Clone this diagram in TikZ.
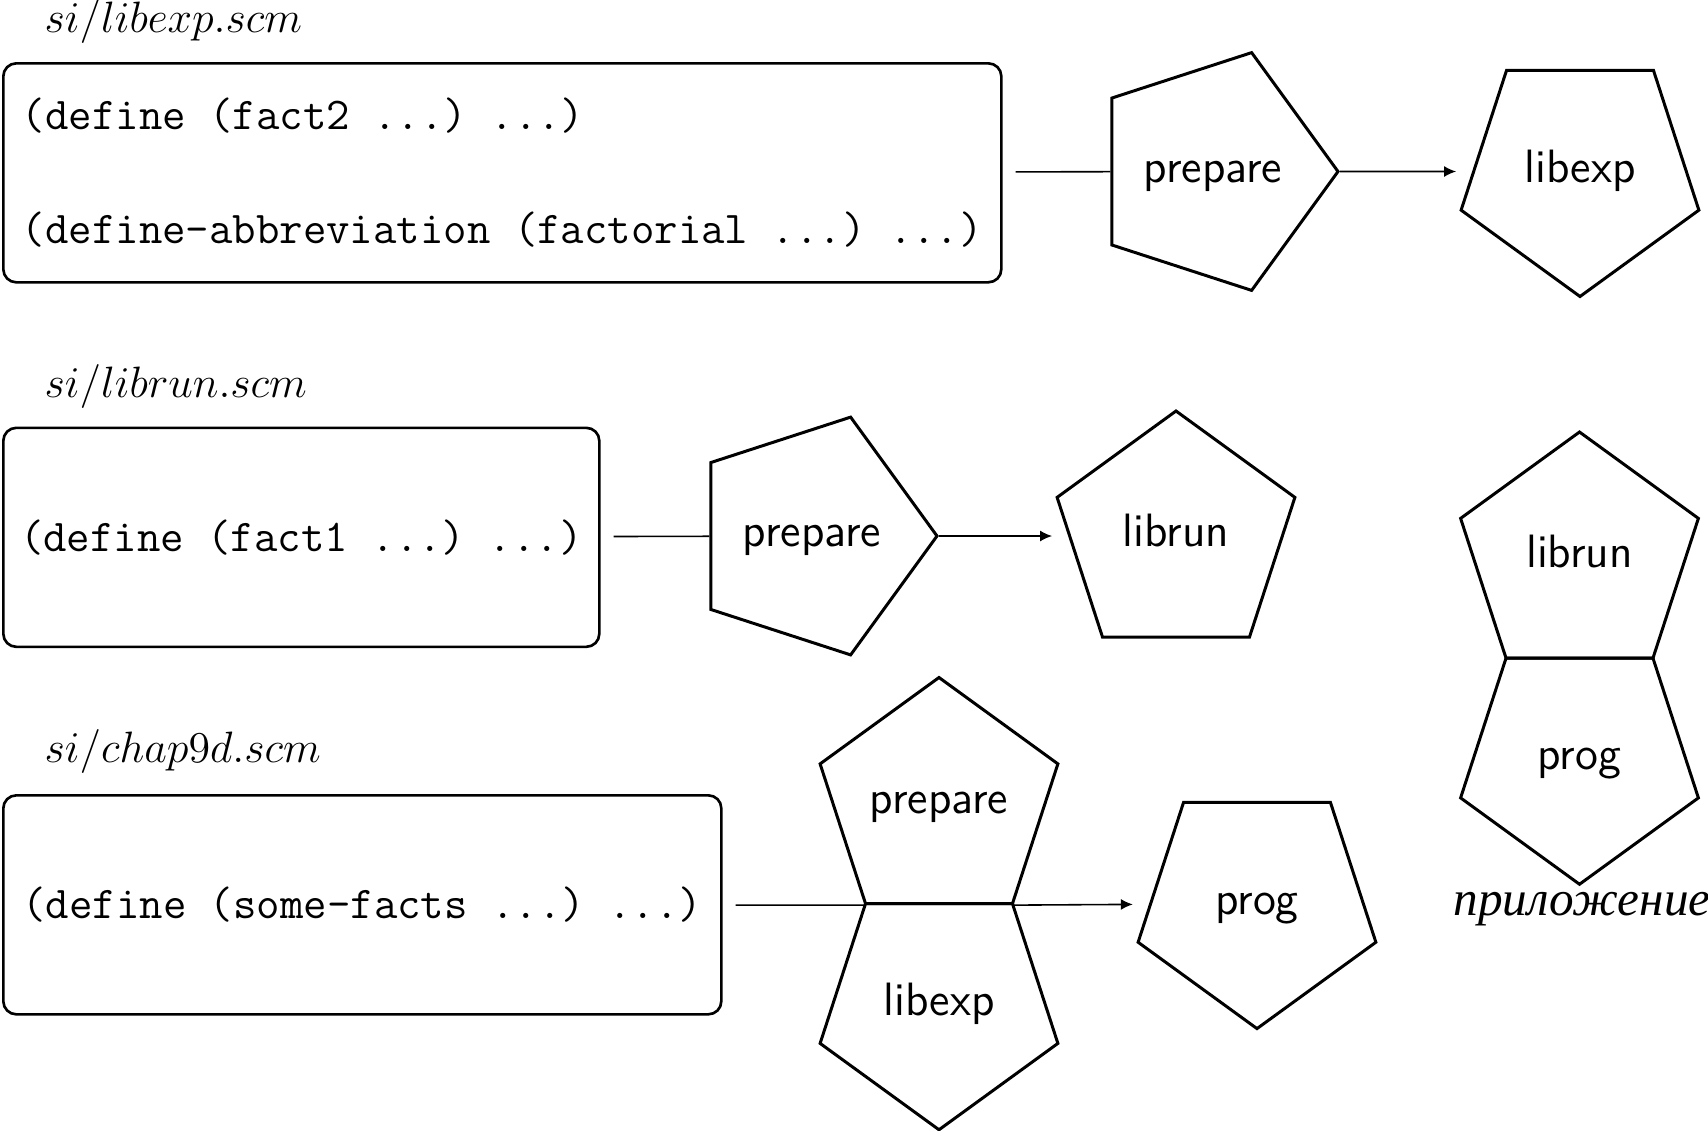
\documentclass[tikz,border=0pt]{standalone}
\usepackage{fix-cm}
\usepackage{fontspec}
\newfontfamily\cyrfont{Liberation Serif}
\usetikzlibrary{shapes.geometric, arrows.meta, positioning}

\begin{document}
\begin{tikzpicture}[
    node distance=2.0225cm,
    codebox/.style={draw, line width=0.75pt, rounded corners=0.13cm, inner sep=0pt,
        minimum height=2.19cm, align=left, anchor=north west, font=\fontsize{12.95}{16}\selectfont\ttfamily\frenchspacing},
    filelabel/.style={anchor=west, inner sep=0pt, font=\fontsize{12.5}{15}\selectfont},
    penta/.style={draw, regular polygon, regular polygon sides=5, minimum size=2.5cm, inner sep=0pt,
        text height=8pt, text depth=2pt, line width=0.85pt, font=\fontsize{13.3}{16}\selectfont\sffamily},
    pright/.style={penta, shape border rotate=-90},
    pdown/.style={penta, shape border rotate=180},
    link/.style={line width=0.45pt},
    arr/.style={link, -{Latex[length=0.12cm, width=0.11cm]}, shorten >=0.16cm}
]
\useasboundingbox (0,0) rectangle (17.08,-11.31);

% file labels
\node[filelabel] (l1) at (0.44,-0.22) {$si/libexp.scm$};
\node[filelabel] (l2) at (0.44,-3.87) {$si/librun.scm$};
\node[filelabel] (l3) at (0.44,-7.52) {$si/chap9d.scm$};

% code boxes
\node[codebox, minimum width=9.98cm] (b1) at (0.02,-0.62) {(define (fact2 ...) ...)\\[16.5pt](define-abbreviation (factorial ...) ...)};
\node[codebox, minimum width=5.96cm] (b2) at (0.02,-4.265) {(define (fact1 ...) ...)};
\node[codebox, minimum width=7.18cm] (b3) at (0.02,-7.94) {(define (some-facts ...) ...)};

% first row
\node[pright] (p1) at (12.13,-1.715) {prepare};
\node[pdown] (e1) at (15.80,-1.715) {libexp};
\draw[link, shorten <=0.13cm] (b1) -- (p1);
\draw[arr] (p1) -- (e1);

% second row
\node[pright] (p2) at (8.12,-5.36) {prepare};
\node[penta] (r2) at (11.76,-5.36) {librun};
\draw[link, shorten <=0.13cm] (b2) -- (p2);
\draw[arr] (p2) -- (r2);

% application
\node[penta] (r3) at (15.795,-5.57) {librun};
\node[pdown, below of=r3] (g3) {prog};
\node[font=\fontsize{14}{17}\selectfont\cyrfont\itshape] (app) at (15.82,-9.09) {приложение};

% third row
\node[penta] (p3) at (9.39,-8.025) {prepare};
\node[pdown, below of=p3] (e3) {libexp};
\node[pdown] (g4) at (12.57,-9.036) {prog};
\draw[link, shorten <=0.13cm] (b3) -- (p3.corner 3);
\draw[arr] (p3.corner 4) -- (g4);
\end{tikzpicture}
\end{document}
